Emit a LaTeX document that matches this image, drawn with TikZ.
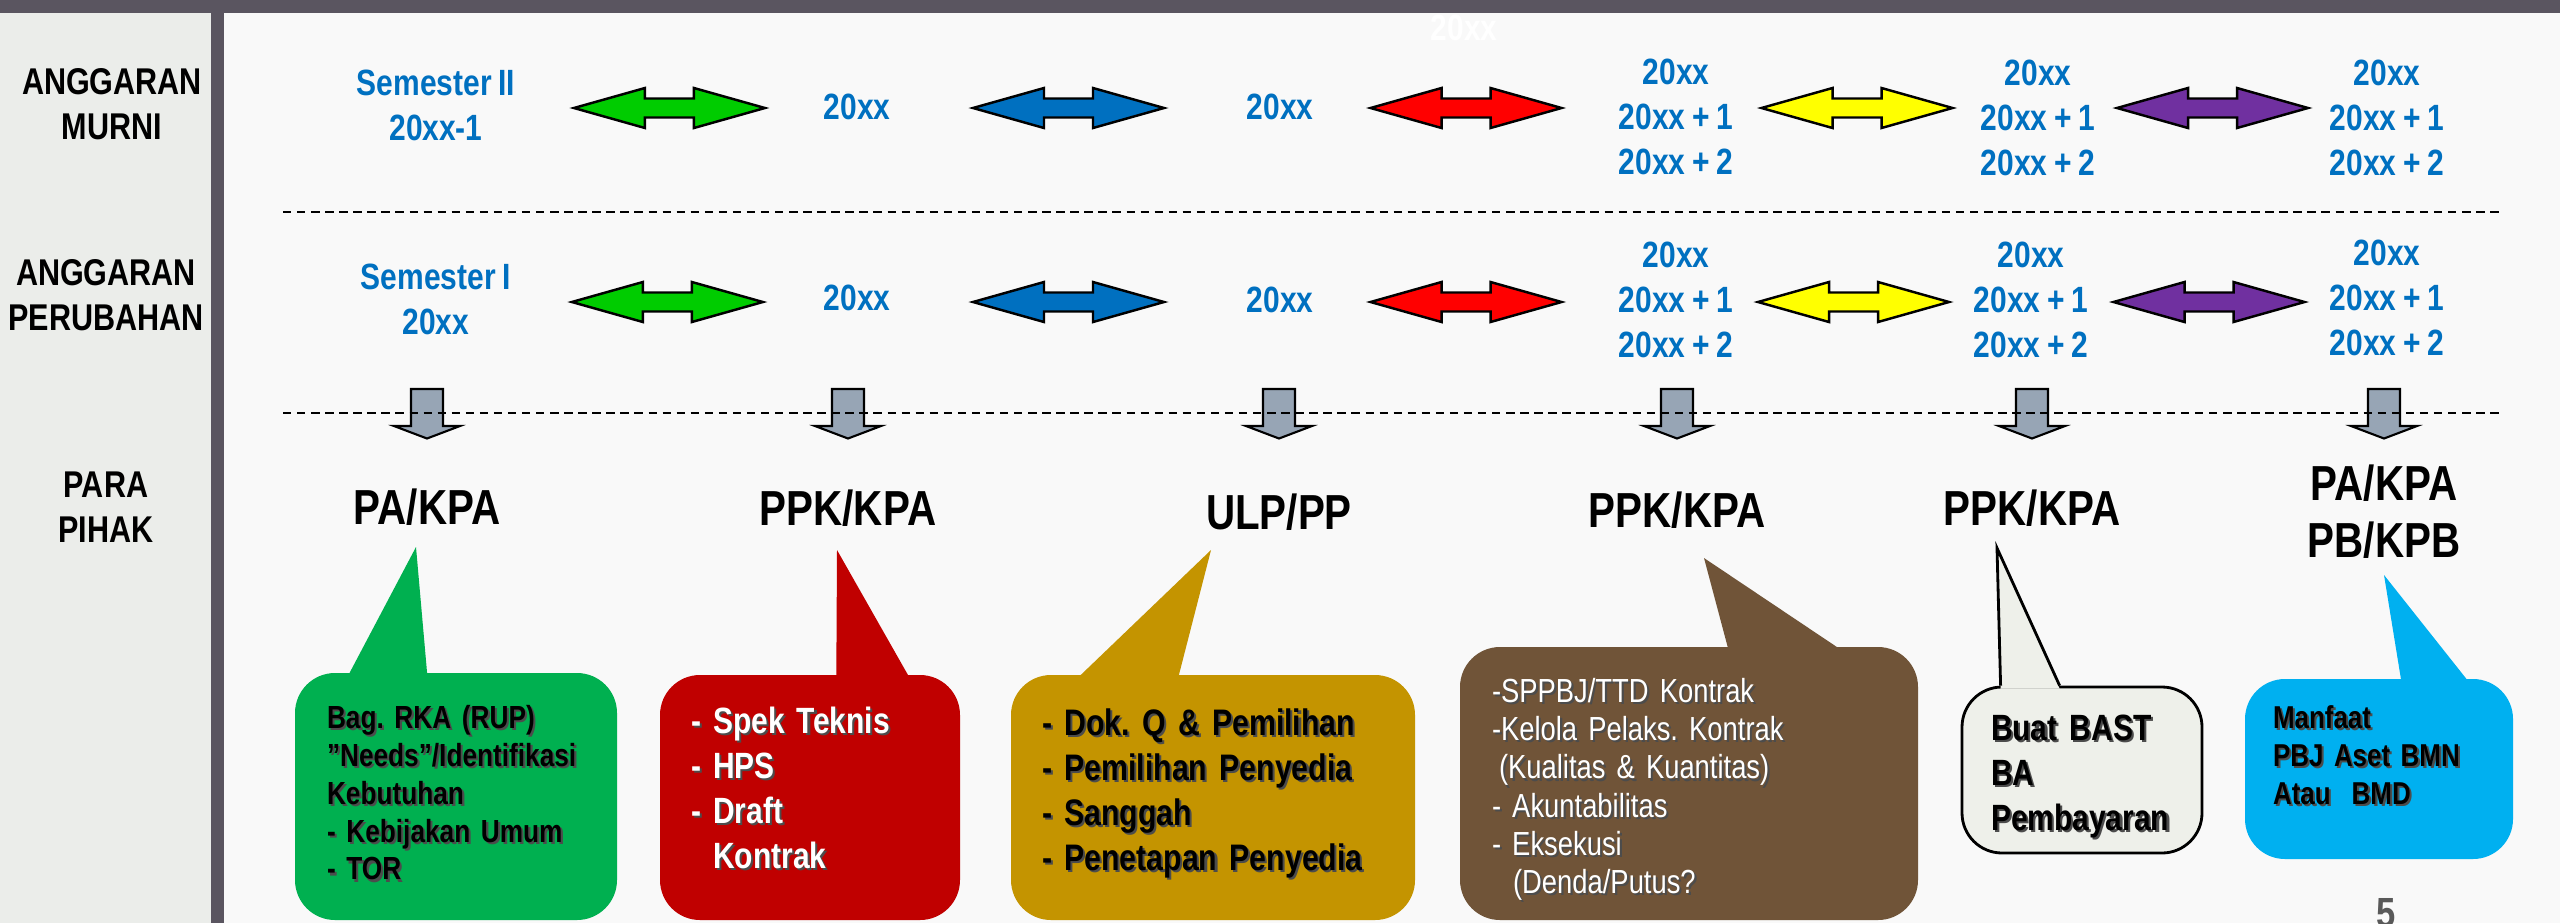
\documentclass[tikz,border=0pt]{standalone}
\usepackage{fontspec}
\setmainfont{Liberation Sans}[FakeStretch=0.82, WordSpace=0.82]
\frenchspacing
\usetikzlibrary{calc}

\definecolor{barGray}{RGB}{90,85,96}
\definecolor{panelGray}{RGB}{235,237,234}
\definecolor{pageWhite}{RGB}{249,249,249}
\definecolor{yearBlue}{RGB}{0,112,192}
\definecolor{arrGreen}{RGB}{0,204,0}
\definecolor{arrBlue}{RGB}{0,112,192}
\definecolor{arrRed}{RGB}{255,0,0}
\definecolor{arrYellow}{RGB}{255,255,0}
\definecolor{arrPurple}{RGB}{112,48,160}
\definecolor{downGray}{RGB}{151,165,181}
\definecolor{boxGreen}{RGB}{0,176,80}
\definecolor{boxRed}{RGB}{192,0,0}
\definecolor{boxGold}{RGB}{196,148,0}
\definecolor{boxBrown}{RGB}{112,84,56}
\definecolor{boxLight}{RGB}{238,240,234}
\definecolor{boxCyan}{RGB}{0,176,240}
\definecolor{pageNum}{RGB}{89,89,89}

% text with a small drop shadow
\newcommand\shd[1]{\leavevmode\rlap{\kern0.6pt\raisebox{-0.6pt}{\color{black!70}#1}}#1}

\tikzset{
  rowlabel/.style={font=\bfseries\fontsize{10.6}{12.8}\selectfont, align=center},
  year/.style={text=yearBlue, font=\bfseries\fontsize{10.4}{12.8}\selectfont, align=center},
  party/.style={font=\bfseries\fontsize{14}{16.2}\selectfont, align=center},
  bubble/.style={rounded corners=0.4cm, align=left, inner ysep=0pt},
  sep line/.style={dash pattern=on 2.4pt off 1.6pt, line width=0.6pt},
  pics/twoway/.style={code={
    \filldraw[fill=#1, draw=black, line width=0.7pt]
      (-0.955,0) -- (-0.245,0.2) -- (-0.245,0.095) -- (0.245,0.095) -- (0.245,0.2)
      -- (0.955,0) -- (0.245,-0.2) -- (0.245,-0.095) -- (-0.245,-0.095)
      -- (-0.245,-0.2) -- cycle;
  }},
  pics/godown/.style={code={
    \filldraw[fill=downGray, draw=black, line width=0.6pt]
      (-0.16,0) -- (0.16,0) -- (0.16,-0.37) -- (0.33,-0.37) -- (0,-0.495)
      -- (-0.33,-0.37) -- (-0.16,-0.37) -- cycle;
  }}
}

\begin{document}
\begin{tikzpicture}
  % slide background
  \fill[pageWhite] (0,0) rectangle (25.6,-9.23);
  \fill[panelGray] (0,0) rectangle (2.11,-9.23);
  \fill[barGray] (2.11,0) rectangle (2.24,-9.23);
  \fill[barGray] (0,0) rectangle (25.6,-0.13);
  \useasboundingbox (0,0) rectangle (25.6,-9.23);

  % left column
  \node[rowlabel] (murni) at (1.12,-1.045) {ANGGARAN\\MURNI};
  \node[rowlabel] (ubah) at (1.06,-2.955) {ANGGARAN\\PERUBAHAN};
  \node[rowlabel] (pihak) at (1.06,-5.075) {PARA\\PIHAK};

  \node[year, text=white] (ghost) at (14.64,-0.28) {20xx};

  % years, anggaran murni
  \node[year] (s1) at (4.36,-1.055) {Semester II\\20xx-1};
  \node[year] (a1) at (8.57,-1.07) {20xx};
  \node[year] (b1) at (12.80,-1.07) {20xx};
  \node[year] (c1) at (16.76,-1.17) {20xx\\20xx + 1\\20xx + 2};
  \node[year] (d1) at (20.38,-1.18) {20xx\\20xx + 1\\20xx + 2};
  \node[year] (e1) at (23.87,-1.18) {20xx\\20xx + 1\\20xx + 2};

  % years, anggaran perubahan
  \node[year] (s2) at (4.36,-2.995) {Semester I\\20xx};
  \node[year] (a2) at (8.57,-2.98) {20xx};
  \node[year] (b2) at (12.80,-3.00) {20xx};
  \node[year] (c2) at (16.76,-3.00) {20xx\\20xx + 1\\20xx + 2};
  \node[year] (d2) at (20.31,-3.00) {20xx\\20xx + 1\\20xx + 2};
  \node[year] (e2) at (23.87,-2.98) {20xx\\20xx + 1\\20xx + 2};

  \coordinate (rowA) at (0,-1.08);
  \coordinate (rowB) at (0,-3.02);
  \foreach \r/\yc in {1/rowA, 2/rowB}
    \foreach \from/\to/\col in {s/a/arrGreen, a/b/arrBlue, b/c/arrRed, c/d/arrYellow, d/e/arrPurple} {
      \path ($(\from\r.east)!0.5!(\to\r.west)$) coordinate (mid);
      \pic at (mid |- \yc) {twoway=\col};
    }

  % para pihak
  \node[party] (p1) at (4.27,-5.07) {PA/KPA};
  \node[party] (p2) at (8.48,-5.08) {PPK/KPA};
  \node[party] (p3) at (12.79,-5.12) {ULP/PP};
  \node[party] (p4) at (16.77,-5.10) {PPK/KPA};
  \node[party] (p5) at (20.32,-5.08) {PPK/KPA};
  \node[party] (p6) at (23.84,-5.115) {PA/KPA\\PB/KPB};

  \coordinate (downtop) at (0,-3.89);
  \foreach \i in {1,...,6}
    \pic at (p\i |- downtop) {godown};

  \draw[sep line] (2.83,-2.12) -- (25.01,-2.12);
  \draw[sep line] (2.83,-4.13) -- (25.01,-4.13);

  % callouts
  \node[bubble, fill=boxGreen, text=black, minimum height=2.47cm, text width=2.58cm,
        inner xsep=0.32cm, text depth=45.5pt, font=\bfseries\fontsize{9.1}{10.8}\selectfont]
    (g) at (4.56,-7.965) {\shd{Bag. RKA (RUP)}\\\shd{”Needs”/Identifikasi}\\\shd{Kebutuhan}\\\shd{- Kebijakan Umum}\\\shd{- TOR}};
  \node[bubble, fill=boxRed, text=white, minimum height=2.45cm, text width=2.38cm,
        inner xsep=0.31cm, text depth=44.1pt, font=\bfseries\fontsize{10.4}{12.8}\selectfont]
    (r) at (8.10,-7.975) {\shd{- Spek Teknis}\\\shd{- HPS}\\\shd{- Draft}\\\shd{\phantom{- }Kontrak}};
  \node[bubble, fill=boxGold, text=black, minimum height=2.45cm, text width=3.42cm,
        inner xsep=0.31cm, text depth=43pt, font=\bfseries\fontsize{10.5}{12.8}\selectfont]
    (o) at (12.13,-7.975) {\shd{- Dok. Q \& Pemilihan}\\\shd{- Pemilihan Penyedia}\\\shd{- Sanggah}\\\shd{- Penetapan Penyedia}};
  \node[bubble, fill=boxBrown, text=white, minimum height=2.73cm, text width=3.94cm,
        inner xsep=0.32cm, text depth=53.1pt, font=\fontsize{9.5}{10.9}\selectfont]
    (w) at (16.89,-7.835) {\shd{-SPPBJ/TTD Kontrak}\\\shd{-Kelola Pelaks. Kontrak}\\\shd{\hspace*{2pt}(Kualitas \& Kuantitas)}\\\shd{- Akuntabilitas}\\\shd{- Eksekusi}\\\shd{\hspace*{6pt}(Denda/Putus?}};
  \node[bubble, fill=boxLight, draw=black, line width=0.8pt, text=black, minimum height=1.66cm,
        text width=1.82cm, inner xsep=0.29cm, text depth=23.9pt, font=\bfseries\fontsize{10.4}{12.8}\selectfont]
    (l) at (20.82,-7.70) {\shd{Buat BAST}\\\shd{BA}\\\shd{Pembayaran}};
  \node[bubble, fill=boxCyan, text=black, minimum height=1.80cm, text width=2.12cm,
        inner xsep=0.28cm, text depth=29.6pt, font=\bfseries\fontsize{9}{10.8}\selectfont]
    (c) at (23.79,-7.69) {\shd{Manfaat}\\\shd{PBJ Aset BMN}\\\shd{Atau\ \ BMD}};

  % callout tails pointing at the parties
  \coordinate (tipg) at (4.16,-5.47);
  \coordinate (tipr) at (8.37,-5.50);
  \coordinate (tipo) at (12.11,-5.50);
  \coordinate (tipw) at (17.04,-5.58);
  \coordinate (tipl) at (19.97,-5.48);
  \coordinate (tipc) at (23.84,-5.75);
  \foreach \bx/\col/\lo/\hi in {g/boxGreen/0.54/1.33, r/boxRed/1.77/2.50, o/boxGold/0.68/1.68,
                                w/boxBrown/2.69/3.81, l/boxLight/0.40/0.99, c/boxCyan/1.57/2.24}
    \fill[\col] ($(\bx.north west)+(\lo,-0.03)$) -- (tip\bx) -- ($(\bx.north west)+(\hi,-0.03)$) -- cycle;
  \draw[line width=0.8pt] ($(l.north west)+(0.40,0)$) -- (tipl) -- ($(l.north west)+(0.99,0)$);

  \node[font=\bfseries\fontsize{12}{14}\selectfont, text=pageNum, anchor=north, inner sep=0pt]
    (pagenum) at (23.86,-8.98) {5};
\end{tikzpicture}
\end{document}
